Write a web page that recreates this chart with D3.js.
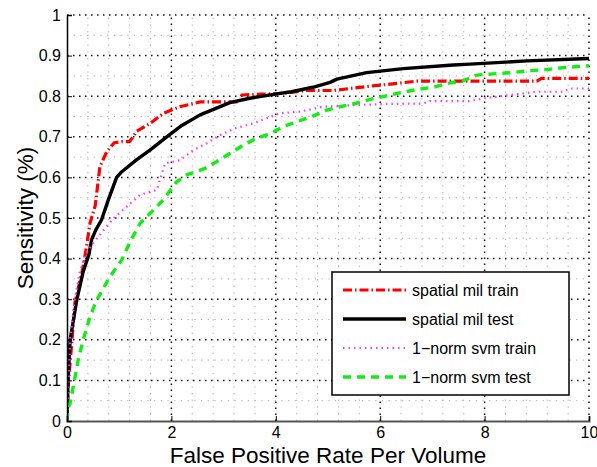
<!DOCTYPE html>
<html>
<head>
<meta charset="utf-8">
<script src="https://cdn.jsdelivr.net/npm/d3@7"></script>
<style>
  body { margin: 0; background: #fff; }
  text { font-family: "Liberation Sans", Arial, sans-serif; }
</style>
</head>
<body>
<script>
// ROC curves
var milTrainX = [0, 0.03, 0.09, 0.15, 0.31, 0.38, 0.44, 0.54, 0.63, 0.76, 0.9, 1.05, 1.2, 1.33, 1.59, 1.85, 2.16, 2.55, 3.0, 3.3, 3.35, 3.73, 4.14, 4.59, 5.1, 5.42, 5.9, 6.28, 6.7, 7.5, 9.0, 9.09, 10];
var milTrainY = [0, 0.1, 0.19, 0.29, 0.38, 0.435, 0.487, 0.53, 0.626, 0.663, 0.685, 0.688, 0.688, 0.713, 0.733, 0.758, 0.774, 0.786, 0.786, 0.786, 0.803, 0.805, 0.807, 0.814, 0.814, 0.819, 0.826, 0.831, 0.837, 0.837, 0.837, 0.844, 0.844];

var milTestX = [0, 0.02, 0.06, 0.19, 0.31, 0.42, 0.47, 0.55, 0.66, 0.79, 0.95, 1.05, 1.33, 1.59, 1.91, 2.2, 2.55, 3.12, 3.5, 4.08, 4.3, 4.71, 5.04, 5.17, 5.74, 6.44, 7.4, 7.72, 8.81, 10];
var milTestY = [0, 0.1, 0.2, 0.3, 0.368, 0.41, 0.446, 0.47, 0.495, 0.544, 0.6, 0.614, 0.643, 0.667, 0.7, 0.728, 0.754, 0.784, 0.795, 0.807, 0.811, 0.822, 0.834, 0.842, 0.858, 0.868, 0.877, 0.879, 0.887, 0.893];

var svmTrainX = [0, 0.03, 0.06, 0.15, 0.25, 0.35, 0.5, 0.7, 0.92, 1.11, 1.4, 1.72, 1.78, 1.88, 2.16, 2.42, 2.68, 2.93, 3.22, 3.57, 3.83, 4.08, 4.46, 4.91, 5.48, 6.12, 6.82, 6.95, 7.7, 8.0, 9.0, 9.5, 9.64, 10];
var svmTrainY = [0, 0.1, 0.2, 0.3, 0.37, 0.41, 0.438, 0.47, 0.503, 0.524, 0.557, 0.569, 0.594, 0.635, 0.642, 0.667, 0.684, 0.704, 0.721, 0.733, 0.746, 0.758, 0.762, 0.774, 0.778, 0.781, 0.782, 0.788, 0.788, 0.795, 0.811, 0.811, 0.819, 0.819];

var svmTestX = [0, 0.02, 0.06, 0.12, 0.22, 0.31, 0.44, 0.57, 0.82, 1.05, 1.21, 1.4, 1.59, 1.84, 2.1, 2.29, 2.64, 2.87, 3.12, 3.38, 3.63, 3.89, 4.14, 4.4, 4.69, 4.98, 5.23, 5.52, 5.8, 6.12, 6.44, 6.73, 7.05, 7.27, 7.59, 7.85, 8.16, 8.52, 8.87, 9.22, 9.57, 10];
var svmTestY = [0, 0.03, 0.044, 0.085, 0.154, 0.2, 0.257, 0.298, 0.355, 0.397, 0.442, 0.487, 0.511, 0.544, 0.589, 0.606, 0.622, 0.639, 0.659, 0.68, 0.696, 0.708, 0.725, 0.737, 0.75, 0.766, 0.774, 0.782, 0.792, 0.801, 0.81, 0.817, 0.823, 0.831, 0.838, 0.852, 0.855, 0.858, 0.863, 0.866, 0.871, 0.875];

var seriesNames = ['spatial mil train', 'spatial mil test', '1\u2212norm svm train', '1\u2212norm svm test'];
var xTicks = [0, 2, 4, 6, 8, 10];
var yTicks = [0, 0.1, 0.2, 0.3, 0.4, 0.5, 0.6, 0.7, 0.8, 0.9, 1];

var W = 597, H = 467;
var m = {left: 67, right: 8, top: 15, bottom: 46};

var svg = d3.select('body').append('svg')
  .attr('width', W)
  .attr('height', H);

var x = d3.scaleLinear().domain([0, 10]).range([m.left, W - m.right]);
var y = d3.scaleLinear().domain([0, 1]).range([H - m.bottom, m.top]);

// minor grid (gray dots)
var xMinor = d3.range(0.4, 10, 0.4).filter(d => Math.abs(d / 2 - Math.round(d / 2)) > 0.01);
var yMinor = d3.range(0.05, 1, 0.1);

svg.append('g').selectAll('line')
  .data(xMinor)
  .enter().append('line')
  .attr('x1', d => x(d)).attr('x2', d => x(d))
  .attr('y1', y(0)).attr('y2', y(1))
  .attr('stroke', '#aaa').attr('stroke-width', 1)
  .attr('stroke-dasharray', '1.2,5.5');

svg.append('g').selectAll('line')
  .data(yMinor)
  .enter().append('line')
  .attr('x1', x(0)).attr('x2', x(10))
  .attr('y1', d => y(d)).attr('y2', d => y(d))
  .attr('stroke', '#aaa').attr('stroke-width', 1)
  .attr('stroke-dasharray', '1.2,5.5');

// major grid (dark dots)
svg.append('g').selectAll('line')
  .data(xTicks.slice(1))
  .enter().append('line')
  .attr('x1', d => x(d)).attr('x2', d => x(d))
  .attr('y1', y(0)).attr('y2', y(1))
  .attr('stroke', '#111').attr('stroke-width', 1.5)
  .attr('stroke-dasharray', '1.5,4.5');

svg.append('g').selectAll('line')
  .data(yTicks.slice(1))
  .enter().append('line')
  .attr('x1', x(0)).attr('x2', x(10))
  .attr('y1', d => y(d)).attr('y2', d => y(d))
  .attr('stroke', '#111').attr('stroke-width', 1.5)
  .attr('stroke-dasharray', '1.5,4.5');

// curves
svg.append('clipPath').attr('id', 'clip')
  .append('rect')
  .attr('x', x(0)).attr('y', y(1) - 2)
  .attr('width', x(10) - x(0) + 2).attr('height', y(0) - y(1) + 2);

var line = d3.line()
  .x(d => x(d[0]))
  .y(d => y(d[1]));

var zip = (a, b) => a.map((v, i) => [v, b[i]]);

var series = [
  {pts: zip(milTrainX, milTrainY), color: '#ff0000', width: 3.2, dash: '9,3,1.5,3'},
  {pts: zip(milTestX, milTestY), color: '#000000', width: 3.4, dash: null},
  {pts: zip(svmTrainX, svmTrainY), color: '#ff33ff', width: 2.2, dash: '1.5,4'},
  {pts: zip(svmTestX, svmTestY), color: '#11ee11', width: 3.4, dash: '8,6'}
];

var curves = svg.append('g').attr('clip-path', 'url(#clip)');
series.forEach(function(s) {
  curves.append('path')
    .datum(s.pts)
    .attr('d', line)
    .attr('fill', 'none')
    .attr('stroke', s.color)
    .attr('stroke-width', s.width)
    .attr('stroke-linejoin', 'round')
    .attr('stroke-dasharray', s.dash);
});

// axes
var xAxis = svg.append('g')
  .attr('transform', 'translate(0,' + y(0) + ')')
  .call(d3.axisBottom(x).tickValues(xTicks).tickSize(-5).tickPadding(6).tickFormat(d3.format('d')));
var yAxis = svg.append('g')
  .attr('transform', 'translate(' + x(0) + ',0)')
  .call(d3.axisLeft(y).tickValues(yTicks).tickSize(-5).tickPadding(6).tickFormat(d => d === 0 || d === 1 ? d3.format('d')(d) : d3.format('.1f')(d)));

[xAxis, yAxis].forEach(function(a) {
  a.select('.domain').attr('stroke', '#000').attr('stroke-width', 1.5);
  a.selectAll('.tick line').attr('stroke', '#000').attr('stroke-width', 1);
  a.selectAll('.tick text').attr('font-size', 16).attr('fill', '#000')
    .attr('font-family', '"Liberation Sans", Arial, sans-serif');
});
xAxis.select('.domain').attr('stroke', '#555').attr('stroke-width', 2);
xAxis.selectAll('.tick text').attr('dy', '0.71em');

// axis titles
svg.append('text')
  .attr('x', (x(0) + x(10)) / 2)
  .attr('y', 463)
  .attr('text-anchor', 'middle')
  .attr('font-size', 22.5)
  .text('False Positive Rate Per Volume');

svg.append('text')
  .attr('transform', 'translate(33,' + (y(0) + y(1)) / 2 + ') rotate(-90)')
  .attr('text-anchor', 'middle')
  .attr('font-size', 22.5)
  .text('Sensitivity (%)');

// legend
var legend = svg.append('g').attr('transform', 'translate(332,272)');
legend.append('rect')
  .attr('width', 237).attr('height', 123)
  .attr('fill', '#fff')
  .attr('stroke', '#000').attr('stroke-width', 1.5);

var rows = legend.selectAll('g.row')
  .data(series)
  .enter().append('g')
  .attr('class', 'row')
  .attr('transform', (d, i) => 'translate(0,' + (18 + i * 29) + ')');

rows.append('line')
  .attr('x1', 11).attr('x2', 74)
  .attr('stroke', d => d.color)
  .attr('stroke-width', d => d.width)
  .attr('stroke-dasharray', d => d.dash);

rows.append('text')
  .attr('x', 80)
  .attr('dy', '0.35em')
  .attr('font-size', 16)
  .text((d, i) => seriesNames[i]);
</script>
</body>
</html>
